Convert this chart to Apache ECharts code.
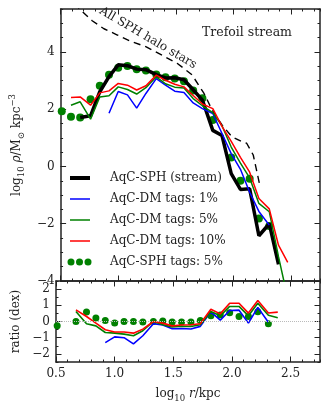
<!DOCTYPE html>
<html>
<head>
<meta charset="utf-8">
<script src="https://cdn.jsdelivr.net/npm/echarts@6/dist/echarts.min.js"></script>
<style>
html, body { margin: 0; padding: 0; background: #fff; }
#chart { width: 330px; height: 412px; }
</style>
</head>
<body>
<div id="chart"></div>
<script>
// bin centres, log10 r/kpc
var logR = [0.51, 0.59, 0.67, 0.76, 0.84, 0.92, 1.00, 1.08, 1.16, 1.24, 1.33, 1.41, 1.49,
            1.57, 1.65, 1.73, 1.82, 1.90, 1.98, 2.06, 2.14, 2.22, 2.31, 2.39, 2.47];

// log10 rho, top panel
var stream = [null, null, 1.71, 1.77, 2.61, 3.14, 3.55, 3.52, 3.4, 3.38, 3.21, 3.09, 3.1,
              3.03, 2.68, 2.32, 1.26, 1.08, -0.25, -0.8, -0.78, -2.42, -2.0, -3.42, null];
var dm1 = [null, null, null, null, null, 1.86, 2.62, 2.5, 2.04, 2.55, 3.07, 2.84, 2.63,
           2.58, 2.22, 2.02, 1.85, 1.15, 0.45, -0.1, -0.9, -1.57, -2.05, null, null];
var dm5 = [null, 2.14, 2.26, 1.65, 2.43, 2.47, 2.78, 2.69, 2.53, 2.75, 3.13, 2.89, 2.77,
           2.74, 2.37, 2.12, 1.88, 1.42, 0.68, 0.12, -0.4, -1.29, -1.58, -3.15, -4.6];
var dm10 = [null, 2.41, 2.43, 2.14, 2.57, 2.64, 2.9, 2.84, 2.67, 2.82, 3.19, 3.01, 2.87,
            2.78, 2.48, 2.18, 2.02, 1.4, 0.88, 0.32, -0.2, -1.12, -1.48, -2.75, -3.35];
var sph5 = [1.93, 1.74, 1.71, 2.35, 2.82, 3.2, 3.45, 3.51, 3.4, 3.35, 3.21, 3.12, 3.07,
            2.98, 2.65, 2.38, 1.62, null, 0.31, -0.5, -0.43, -1.82, -2.08, null, null];

// all SPH halo stars (dashed)
var haloR = [0.62, 0.663, 0.774, 0.876, 0.988, 1.115, 1.243, 1.388, 1.516, 1.64, 1.744,
             1.815, 1.9, 1.985, 2.071, 2.114, 2.171, 2.199, 2.227];
var haloRho = [5.7, 5.51, 5.09, 4.81, 4.6, 4.36, 4.18, 3.87, 3.59, 3.2, 2.55,
               1.97, 1.45, 1.04, 0.87, 0.81, 0.4, -0.12, -0.64];

// ratio (dex), bottom panel
var ratioDm1 = [null, null, null, null, null, -1.3, -0.95, -1.0, -1.38, -0.88, -0.14, -0.22, -0.45,
                -0.43, -0.46, -0.3, 0.6, 0.08, 0.68, 0.7, -0.1, 0.87, -0.05, null, null];
var ratioDm5 = [null, null, 0.62, -0.14, -0.27, -0.68, -0.72, -0.78, -0.88, -0.57, 0.0, -0.2, -0.33,
                -0.29, -0.31, -0.2, 0.62, 0.35, 0.93, 0.93, 0.35, 1.13, 0.39, 0.23, null];
var ratioDm10 = [null, null, 0.72, 0.31, -0.1, -0.51, -0.65, -0.65, -0.72, -0.47, 0.0, -0.1, -0.27,
                 -0.22, -0.2, -0.14, 0.76, 0.47, 1.13, 1.13, 0.52, 1.3, 0.52, 0.58, null];
var ratioSph5 = [-0.27, null, 0.0, 0.58, 0.21, 0.06, -0.1, 0.0, 0.0, -0.03, 0.0, 0.03, -0.03,
                 -0.03, -0.03, 0.06, 0.36, 0.4, 0.54, 0.31, 0.31, 0.6, -0.14, null, null];

var xTicks = [0.5, 1.0, 1.5, 2.0, 2.5];
var rhoTicks = [-4, -2, 0, 2, 4];
var ratioTicks = [-2, -1, 0, 1, 2];
var legendNames = ['AqC-SPH (stream)', 'AqC-DM tags: 1%', 'AqC-DM tags: 5%',
                   'AqC-DM tags: 10%', 'AqC-SPH tags: 5%'];

var ink = '#222';
var serif = 'DejaVu Serif';
var BLUE = '#0000ff', GREEN = '#008000', RED = '#ff0000';

function pts(ys, xs) {
    xs = xs || logR;
    var out = [];
    for (var i = 0; i < xs.length; i++) {
        if (ys[i] !== null) out.push([xs[i], ys[i]]);
    }
    return out;
}

function fmt(v) {
    return String(v).replace('-', '\u2212');
}

// two axes per side: one for the small ticks + spine, one for big ticks + labels
function axisPair(grid, pos, lim, step, major, labelled, labelFmt) {
    var minor = {
        type: 'value', gridIndex: grid, position: pos, min: lim[0], max: lim[1],
        interval: step, splitLine: { show: false },
        axisLine: { show: true, onZero: false, lineStyle: { color: ink, width: 1.5 } },
        axisTick: { show: true, inside: true, length: 2.5, lineStyle: { color: ink, width: 1 } },
        axisLabel: { show: false }
    };
    var big = {
        type: 'value', gridIndex: grid, position: pos, min: lim[0], max: lim[1],
        splitLine: { show: false },
        axisLine: { show: false, onZero: false },
        axisTick: { show: true, inside: true, length: 5.5, customValues: major,
                    lineStyle: { color: ink, width: 1 } },
        axisLabel: { show: labelled, customValues: major, margin: 6, color: ink,
                     fontFamily: serif, fontSize: 12, formatter: labelFmt || fmt }
    };
    return [minor, big];
}

var xFmt = function (v) { return v.toFixed(1); };
var xAxes = [].concat(
    axisPair(0, 'bottom', [0.5, 2.75], 0.1, xTicks, false),
    axisPair(0, 'top', [0.5, 2.75], 0.1, xTicks, false),
    axisPair(1, 'bottom', [0.5, 2.75], 0.1, xTicks, true, xFmt),
    axisPair(1, 'top', [0.5, 2.75], 0.1, xTicks, false)
);
var yAxes = [].concat(
    axisPair(0, 'left', [-4, 5.5], 0.5, rhoTicks, true),
    axisPair(0, 'right', [-4, 5.5], 0.5, rhoTicks, false),
    axisPair(1, 'left', [-2.5, 2.5], 0.5, ratioTicks, true),
    axisPair(1, 'right', [-2.5, 2.5], 0.5, ratioTicks, false)
);

var richBase = {
    n: { fontFamily: serif, fontSize: 12, color: ink, lineHeight: 18 },
    i: { fontFamily: serif, fontSize: 12, color: ink, fontStyle: 'italic', lineHeight: 18 },
    s: { fontFamily: serif, fontSize: 8.5, color: ink, verticalAlign: 'bottom', lineHeight: 9 },
    p: { fontFamily: serif, fontSize: 8.5, color: ink, verticalAlign: 'top', lineHeight: 9 }
};

// axis titles
xAxes[5].name = '{n|log}{s|10}{i| r}{n|/kpc}';
xAxes[5].nameLocation = 'middle';
xAxes[5].nameGap = 23;
xAxes[5].nameTextStyle = { rich: richBase };

yAxes[1].name = '{n|log}{s|10}{i| \u03c1}{n|/M}{s|\u2299}{n| kpc}{p|\u22123}';
yAxes[1].nameLocation = 'middle';
yAxes[1].nameRotate = 90;
yAxes[1].nameGap = 34;
yAxes[1].nameTextStyle = { rich: richBase };

yAxes[5].name = 'ratio (dex)';
yAxes[5].nameLocation = 'middle';
yAxes[5].nameRotate = 90;
yAxes[5].nameGap = 30;
yAxes[5].nameTextStyle = { fontFamily: serif, fontSize: 12, color: ink };

function lineSeries(data, color, width, xi, yi, extra) {
    var s = {
        type: 'line', xAxisIndex: xi, yAxisIndex: yi, data: data,
        symbol: 'none', showSymbol: false, clip: true, silent: true,
        lineStyle: { color: color, width: width }
    };
    return Object.assign(s, extra || {});
}

function dotSeries(data, size, xi, yi) {
    return {
        type: 'scatter', xAxisIndex: xi, yAxisIndex: yi, data: data,
        symbolSize: size, clip: true, silent: true,
        itemStyle: { color: GREEN, opacity: 1 }
    };
}

var series = [
    lineSeries(pts(haloRho, haloR), '#000', 1.4, 0, 0, { lineStyle: { color: '#000', width: 1.4, type: [7, 5] } }),
    lineSeries(pts(stream), '#000', 3.5, 0, 0),
    lineSeries(pts(dm1), BLUE, 1.5, 0, 0),
    lineSeries(pts(dm5), GREEN, 1.5, 0, 0),
    lineSeries(pts(dm10), RED, 1.5, 0, 0),
    dotSeries(pts(sph5), 8, 0, 0),

    lineSeries(pts(ratioDm1), BLUE, 1.6, 4, 4, {
        markLine: {
            silent: true, symbol: 'none', label: { show: false },
            lineStyle: { color: '#bbb', width: 1, type: 'dotted' },
            data: [{ yAxis: 0 }]
        }
    }),
    lineSeries(pts(ratioDm5), GREEN, 1.6, 4, 4),
    lineSeries(pts(ratioDm10), RED, 1.6, 4, 4),
    dotSeries(pts(ratioSph5), 7, 4, 4)
];

// hand-made legend (three dots for the SPH tags)
var legendY = [178, 199, 220, 241, 262];
var graphics = [
    { type: 'line', shape: { x1: 70, y1: legendY[0], x2: 90, y2: legendY[0] }, style: { stroke: '#000', lineWidth: 4 } },
    { type: 'line', shape: { x1: 70, y1: legendY[1], x2: 90, y2: legendY[1] }, style: { stroke: BLUE, lineWidth: 1.5 } },
    { type: 'line', shape: { x1: 70, y1: legendY[2], x2: 90, y2: legendY[2] }, style: { stroke: GREEN, lineWidth: 1.5 } },
    { type: 'line', shape: { x1: 70, y1: legendY[3], x2: 90, y2: legendY[3] }, style: { stroke: RED, lineWidth: 1.5 } },
    { type: 'circle', shape: { cx: 71, cy: legendY[4], r: 3.5 }, style: { fill: GREEN } },
    { type: 'circle', shape: { cx: 79.5, cy: legendY[4], r: 3.5 }, style: { fill: GREEN } },
    { type: 'circle', shape: { cx: 88, cy: legendY[4], r: 3.5 }, style: { fill: GREEN } },
    { type: 'text', x: 202, y: 33, style: { text: 'Trefoil stream', fontFamily: serif, fontSize: 12.5, fill: ink, textVerticalAlign: 'middle' } },
    { type: 'text', x: 148, y: 38, rotation: -0.53, style: { text: 'All SPH halo stars', fontFamily: serif, fontSize: 12, fill: ink, textAlign: 'center', textVerticalAlign: 'middle' } }
];
for (var k = 0; k < legendNames.length; k++) {
    graphics.push({ type: 'text', x: 110, y: legendY[k],
        style: { text: legendNames[k], fontFamily: serif, fontSize: 12, fill: ink, textVerticalAlign: 'middle' } });
}

var myChart = echarts.init(document.getElementById('chart'), null, { renderer: 'canvas' });
myChart.setOption({
    animation: false,
    backgroundColor: '#fff',
    grid: [
        { left: 56, top: 9, width: 264, height: 272 },
        { left: 56, top: 281, width: 264, height: 81 }
    ],
    xAxis: xAxes,
    yAxis: yAxes,
    series: series,
    graphic: graphics
});
</script>
</body>
</html>
